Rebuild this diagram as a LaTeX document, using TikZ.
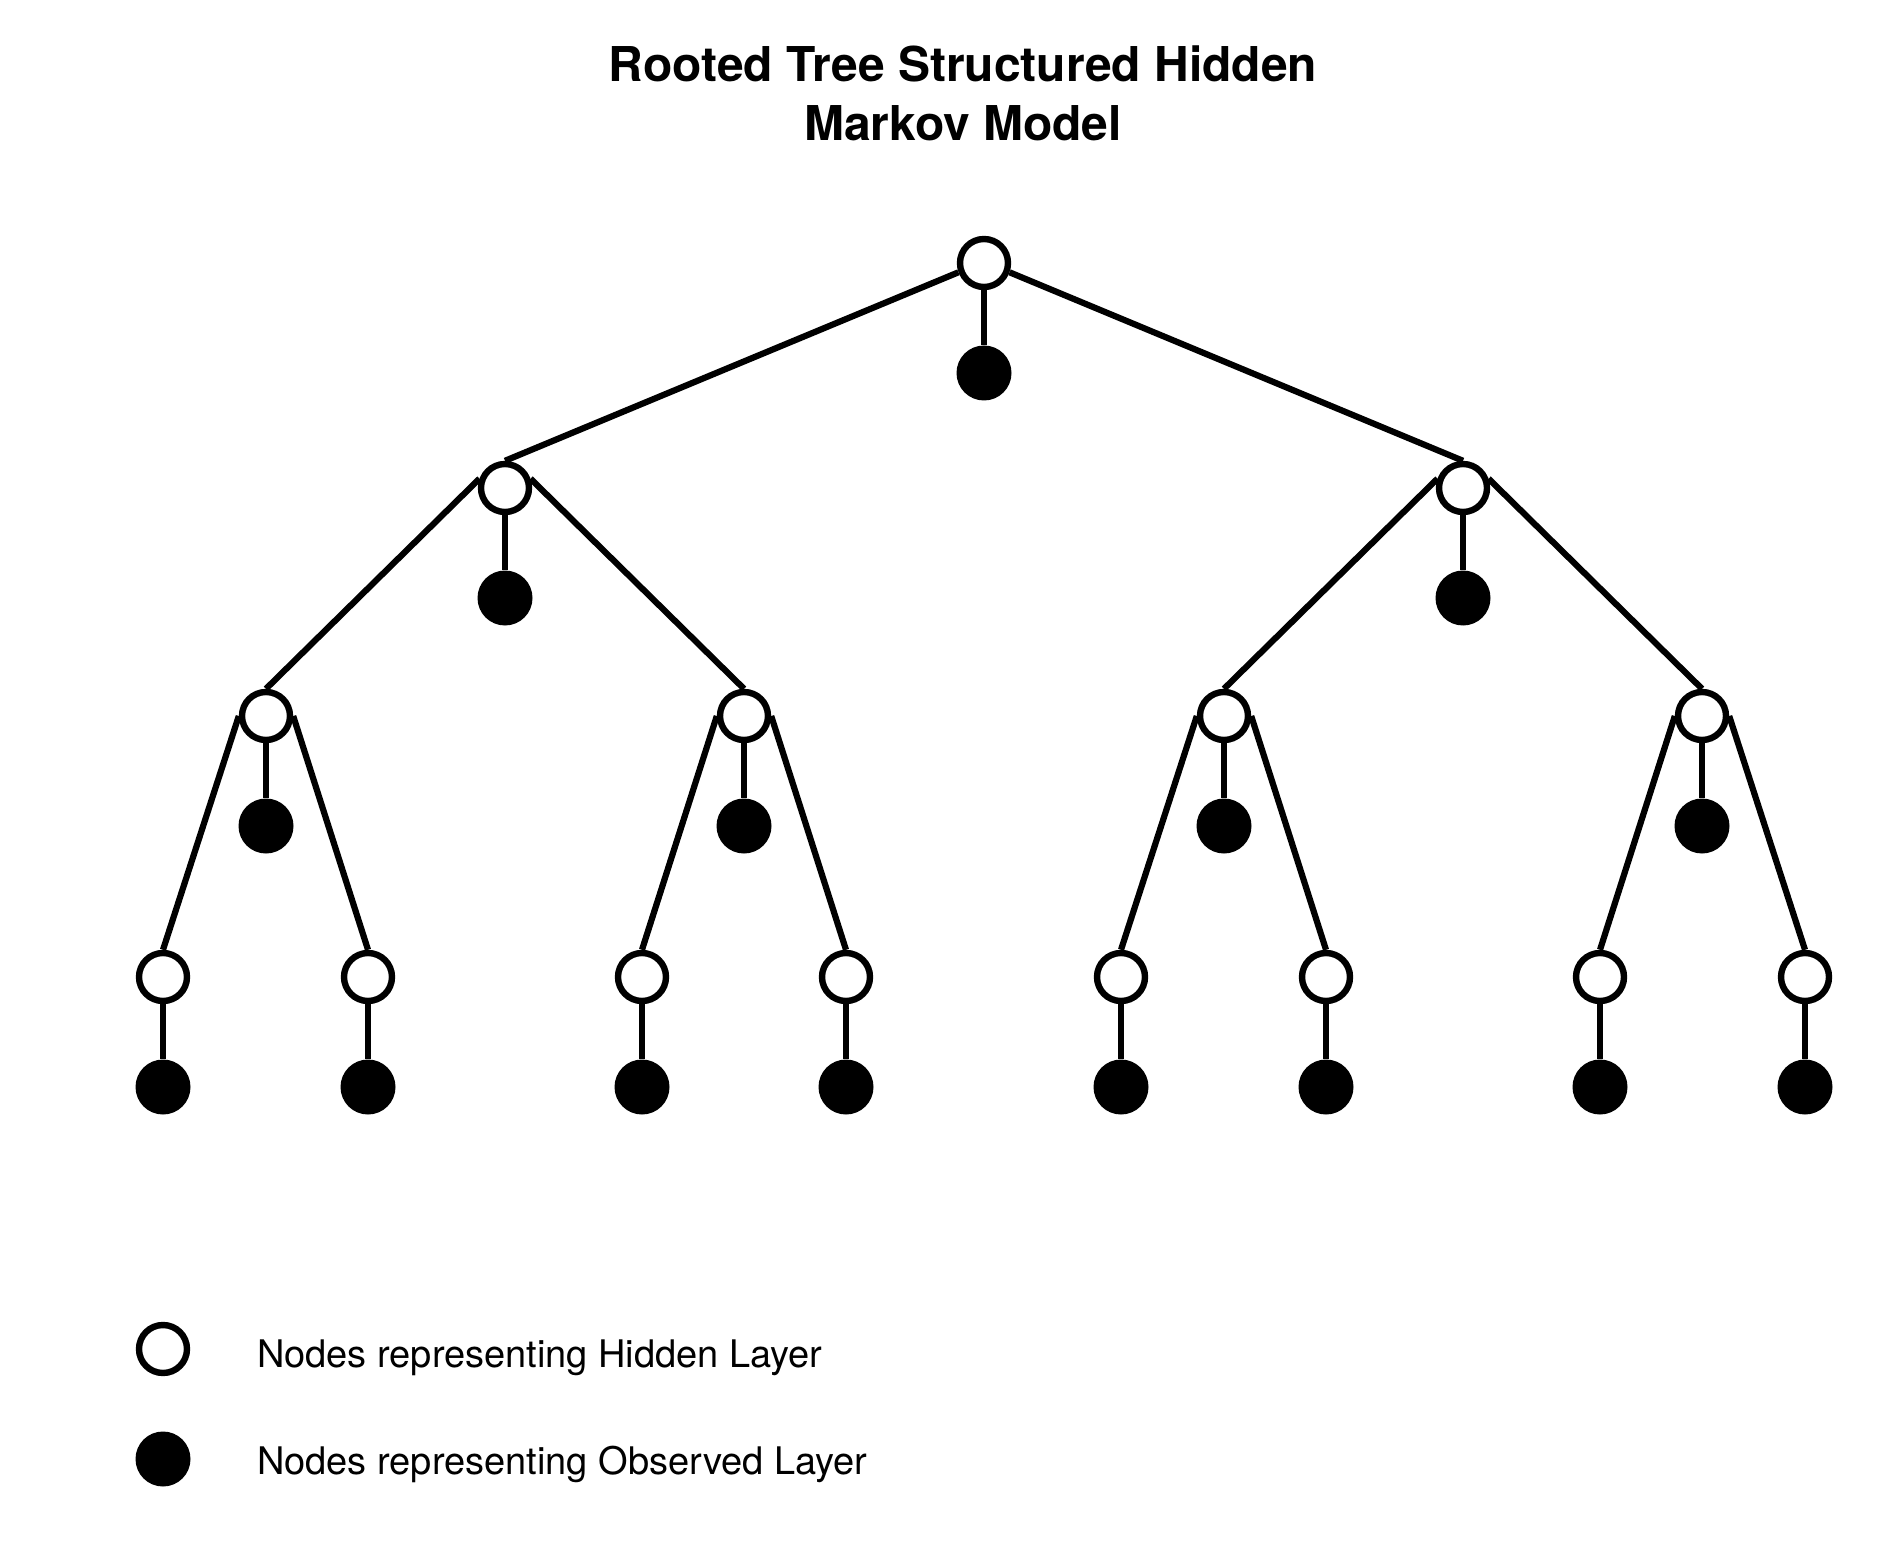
\documentclass[tikz,border=0pt]{standalone}
\usepackage{fontspec}
\setmainfont{TeX Gyre Heros}
\begin{document}
\begin{tikzpicture}[x=0.5pt,y=-0.5pt,
  hid/.style={circle,draw=black,fill=white,line width=3.2pt,minimum size=24pt,inner sep=0pt},
  obs/.style={circle,fill=black,minimum size=27.5pt,inner sep=0pt},
  edge/.style={line width=3.1pt,draw=black},
  ttl/.style={font=\bfseries\fontsize{24}{29}\selectfont,anchor=base},
  lgd/.style={font=\fontsize{19}{23}\selectfont,anchor=base west}]
\useasboundingbox (0,0) rectangle (1885,1556);
% title
\node[ttl] (t1) at (963,82) {Rooted Tree Structured Hidden};
\node[ttl] (t2) at (963,141) {Markov Model};
% hidden nodes
\node[hid] (r) at (984,263) {};
\node[hid] (a1) at (505,488) {};
\node[hid] (a2) at (1463,488) {};
\node[hid] (b1) at (266,716) {};
\node[hid] (b2) at (744,716) {};
\node[hid] (b3) at (1224,716) {};
\node[hid] (b4) at (1702,716) {};
\foreach \i/\x in {1/163,2/368,3/642,4/846,5/1121,6/1326,7/1600,8/1805}{
  \node[hid] (c\i) at (\x,977) {};
}
% observed nodes
\node[obs] (or) at (984,373) {};
\node[obs] (oa1) at (505,598) {};
\node[obs] (oa2) at (1463,598) {};
\node[obs] (ob1) at (266,826) {};
\node[obs] (ob2) at (744,826) {};
\node[obs] (ob3) at (1224,826) {};
\node[obs] (ob4) at (1702,826) {};
\foreach \i/\x in {1/163,2/368,3/642,4/846,5/1121,6/1326,7/1600,8/1805}{
  \node[obs] (oc\i) at (\x,1087) {};
}
% tree edges
\draw[edge] (r.200) -- (a1.north);
\draw[edge] (r.340) -- (a2.north);
\draw[edge] (a1.160) -- (b1.north);
\draw[edge] (a1.20) -- (b2.north);
\draw[edge] (a2.160) -- (b3.north);
\draw[edge] (a2.20) -- (b4.north);
\draw[edge] (b1.west) -- (c1.north);
\draw[edge] (b1.east) -- (c2.north);
\draw[edge] (b2.west) -- (c3.north);
\draw[edge] (b2.east) -- (c4.north);
\draw[edge] (b3.west) -- (c5.north);
\draw[edge] (b3.east) -- (c6.north);
\draw[edge] (b4.west) -- (c7.north);
\draw[edge] (b4.east) -- (c8.north);
% emission edges
\draw[edge] (r.south) -- (or);
\draw[edge] (a1.south) -- (oa1);
\draw[edge] (a2.south) -- (oa2);
\foreach \i in {1,...,4}{ \draw[edge] (b\i.south) -- (ob\i); }
\foreach \i in {1,...,8}{ \draw[edge] (c\i.south) -- (oc\i); }
% legend
\node[hid] (lh) at (163,1349) {};
\node[obs] (lo) at (163,1459) {};
\node[lgd] (lht) at (250,1367) {Nodes representing Hidden Layer};
\node[lgd] (lot) at (250,1474) {Nodes representing Observed Layer};
\end{tikzpicture}
\end{document}
